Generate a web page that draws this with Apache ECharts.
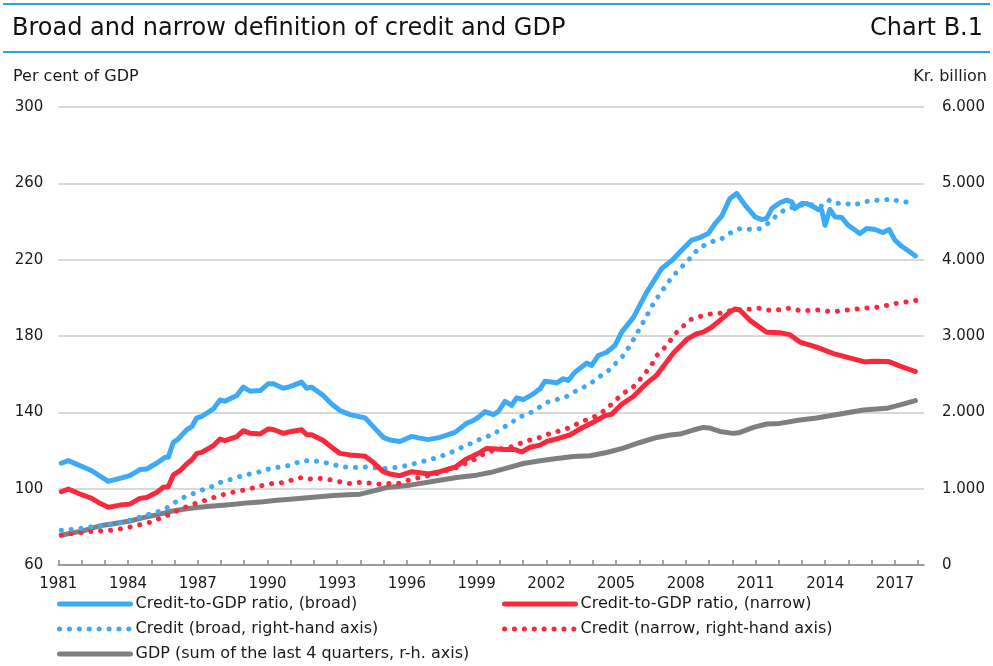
<!DOCTYPE html>
<html>
<head>
<meta charset="utf-8">
<title>Chart B.1</title>
<script src="https://cdn.jsdelivr.net/npm/echarts@6/dist/echarts.min.js"></script>
<style>
  html, body { margin: 0; padding: 0; background: #fff; }
  #chart { width: 993px; height: 666px; }
</style>
</head>
<body>
<div id="chart"></div>
<script>
// series names (legend)
const names = [
  'Credit-to-GDP ratio, (broad)',
  'Credit-to-GDP ratio, (narrow)',
  'Credit (broad, right-hand axis)',
  'Credit (narrow, right-hand axis)',
  'GDP (sum of the last 4 quarters, r-h. axis)'
];

// [year, per cent of GDP]
const broadRatio = [[1981.13,113.3],[1981.43,114.7],[1982.44,109.4],[1983.15,103.8],[1983.65,105.4],[1984.08,106.8],[1984.51,110],[1984.80,110.3],[1985.23,113.3],[1985.59,116.4],[1985.73,116.4],[1985.95,124.3],[1986.16,126],[1986.52,130.8],[1986.74,132.5],[1986.96,137.1],[1987.17,137.8],[1987.67,141.8],[1987.96,146.5],[1988.17,145.8],[1988.68,148.8],[1988.96,153.2],[1989.25,151.1],[1989.69,151.4],[1990.04,155],[1990.25,155],[1990.68,152.6],[1990.97,153.5],[1991.47,155.8],[1991.69,152.6],[1991.90,153.2],[1992.40,148.8],[1992.76,144.4],[1993.12,140.9],[1993.55,138.8],[1994.20,137.1],[1994.55,132.5],[1994.98,126.9],[1995.27,125.5],[1995.70,124.7],[1996.21,127.4],[1996.49,126.6],[1996.92,125.7],[1997.42,126.9],[1997.78,128.3],[1998.07,129.5],[1998.57,134.3],[1998.86,135.7],[1999.07,137.4],[1999.36,140.4],[1999.72,138.8],[1999.93,140.4],[2000.22,145.7],[2000.51,143.6],[2000.72,147.6],[2001.01,146.7],[2001.44,149.7],[2001.73,152.3],[2001.94,156.3],[2002.45,155.5],[2002.73,157.6],[2002.94,156.7],[2003.23,161],[2003.74,165.8],[2003.95,164.6],[2004.24,169.8],[2004.60,171.5],[2004.95,175],[2005.24,182],[2005.74,189.6],[2006.32,203],[2006.96,215.3],[2007.46,220.2],[2007.82,224.9],[2008.25,230.2],[2008.61,231.6],[2008.97,233.7],[2009.26,238.9],[2009.55,242.9],[2009.90,252.1],[2010.19,254.7],[2010.55,248.6],[2010.98,242.4],[2011.27,241],[2011.48,241.6],[2011.70,246.8],[2012.05,249.8],[2012.34,251.2],[2012.56,250.3],[2012.70,246.8],[2012.99,249.4],[2013.20,249.4],[2013.49,247.7],[2013.70,246.3],[2013.85,245.9],[2013.99,238],[2014.20,246.3],[2014.42,242.4],[2014.71,242.1],[2014.99,238],[2015.49,233.7],[2015.78,236.3],[2016.14,235.8],[2016.49,234.2],[2016.75,235.8],[2017.00,230.2],[2017.29,227],[2017.65,224],[2017.88,221.9]];

const narrowRatio = [[1981.13,98.4],[1981.43,99.8],[1981.93,97.2],[1982.44,94.9],[1982.79,92.3],[1983.15,90.2],[1983.65,91.4],[1984.08,91.9],[1984.51,94.9],[1984.80,95.4],[1985.23,98],[1985.52,100.7],[1985.73,101],[1985.95,107.2],[1986.24,109.4],[1986.52,112.9],[1986.74,115],[1986.96,118.5],[1987.17,119],[1987.67,122.5],[1987.96,126],[1988.17,125.2],[1988.68,127.3],[1988.96,130.4],[1989.25,129],[1989.69,128.7],[1990.04,131.3],[1990.25,131],[1990.68,129],[1990.97,129.8],[1991.47,130.9],[1991.69,128.2],[1991.90,128.2],[1992.40,125.2],[1992.76,121.7],[1993.12,118.5],[1993.55,117.7],[1994.20,117],[1994.55,113.8],[1994.98,108.9],[1995.27,107.7],[1995.70,106.8],[1996.21,108.9],[1996.49,108.5],[1996.92,107.7],[1997.42,108.9],[1997.78,110.3],[1998.07,111.2],[1998.57,115.6],[1998.86,117.3],[1999.15,119],[1999.43,121.1],[1999.86,120.8],[2000.15,120.5],[2000.65,120.5],[2000.94,119.2],[2001.30,121.7],[2001.73,122.8],[2002.02,124.8],[2002.51,126.3],[2003.02,128.2],[2003.52,131.8],[2004.02,134.8],[2004.52,138.3],[2004.81,139],[2005.24,144.2],[2005.74,148.3],[2006.25,154.5],[2006.75,159.5],[2007.03,164],[2007.46,171],[2008.04,178.2],[2008.47,181.2],[2008.75,182],[2009.12,184.7],[2009.47,188.2],[2009.90,192.5],[2010.12,194.2],[2010.33,193.5],[2010.76,188.2],[2011.48,182],[2012.05,181.7],[2012.48,180.7],[2012.91,176.8],[2013.63,174.2],[2014.35,170.8],[2014.92,168.9],[2015.70,166.4],[2016.07,166.8],[2016.71,166.7],[2017.22,164.2],[2017.88,161.4]];

// [year, kr. billion]
const broadCredit = [[1981.13,454],[1981.65,467],[1982.08,481],[1982.51,502],[1983.01,520],[1983.44,541],[1983.87,567],[1984.30,607],[1984.73,651],[1985.16,686],[1985.59,730],[1985.95,809],[1986.38,883],[1986.81,936],[1987.17,980],[1987.60,1028],[1988.03,1089],[1988.46,1125],[1988.89,1168],[1989.32,1198],[1989.75,1225],[1990.18,1272],[1990.61,1286],[1991.04,1312],[1991.47,1365],[1991.90,1365],[1992.33,1352],[1992.76,1322],[1993.19,1286],[1993.69,1277],[1994.12,1286],[1994.55,1277],[1995.06,1264],[1995.49,1277],[1995.92,1299],[1996.35,1330],[1996.78,1365],[1997.21,1400],[1997.64,1444],[1998.07,1496],[1998.50,1562],[1998.86,1605],[1999.29,1671],[1999.72,1707],[2000.08,1794],[2000.44,1847],[2000.79,1934],[2001.22,1978],[2001.59,2044],[2002.02,2131],[2002.37,2162],[2002.80,2196],[2003.16,2262],[2003.59,2328],[2003.88,2372],[2004.31,2472],[2004.67,2547],[2005.03,2656],[2005.38,2766],[2005.81,2984],[2006.25,3226],[2006.68,3466],[2006.96,3575],[2007.18,3684],[2007.61,3838],[2008.11,3991],[2008.40,4100],[2008.75,4180],[2009.12,4235],[2009.55,4276],[2009.90,4346],[2010.33,4407],[2010.76,4398],[2011.19,4407],[2011.55,4477],[2011.91,4578],[2012.27,4657],[2012.70,4695],[2013.10,4720],[2013.49,4720],[2013.85,4700],[2014.18,4779],[2014.42,4740],[2014.85,4740],[2015.20,4713],[2015.62,4750],[2016.03,4779],[2016.45,4775],[2016.83,4797],[2017.26,4757],[2017.88,4757]];

const narrowCredit = [[1981.13,390],[1981.50,410],[1981.93,424],[1982.36,440],[1982.79,445],[1983.30,455],[1983.73,476],[1984.16,502],[1984.59,533],[1985.02,564],[1985.45,620],[1985.88,673],[1986.24,730],[1986.67,783],[1987.02,817],[1987.45,862],[1987.82,896],[1988.25,936],[1988.68,962],[1989.03,984],[1989.46,1015],[1989.82,1046],[1990.25,1070],[1990.68,1081],[1991.04,1112],[1991.47,1146],[1991.90,1125],[1992.26,1134],[1992.69,1116],[1993.12,1089],[1993.55,1067],[1993.98,1081],[1994.41,1072],[1994.77,1059],[1995.20,1067],[1995.63,1067],[1995.99,1103],[1996.42,1138],[1996.78,1159],[1997.21,1190],[1997.64,1234],[1998.07,1269],[1998.50,1330],[1998.86,1374],[1999.29,1453],[1999.65,1496],[2000.08,1525],[2000.51,1549],[2000.87,1592],[2001.30,1637],[2001.73,1671],[2002.16,1724],[2002.59,1759],[2003.02,1802],[2003.45,1868],[2003.81,1912],[2004.17,1956],[2004.60,2044],[2004.95,2153],[2005.38,2262],[2005.81,2350],[2006.17,2480],[2006.53,2620],[2006.75,2744],[2007.18,2875],[2007.54,3029],[2007.89,3129],[2008.18,3212],[2008.75,3269],[2009.18,3295],[2009.61,3300],[2009.98,3340],[2010.41,3344],[2010.76,3352],[2011.19,3365],[2011.62,3335],[2012.05,3344],[2012.48,3365],[2012.88,3335],[2013.31,3335],[2013.74,3340],[2014.17,3320],[2014.42,3322],[2014.81,3335],[2015.24,3348],[2015.67,3365],[2016.10,3370],[2016.52,3391],[2016.96,3422],[2017.39,3444],[2017.79,3457],[2018.13,3488]];

const gdp = [[1981.13,390],[1981.65,424],[1982.08,446],[1982.51,490],[1982.94,520],[1983.51,547],[1984.08,577],[1984.66,620],[1985.23,656],[1985.81,700],[1986.38,730],[1986.96,752],[1987.53,770],[1988.10,783],[1988.68,800],[1989.25,817],[1989.82,830],[1990.40,849],[1990.97,862],[1991.83,883],[1992.98,915],[1993.98,928],[1994.27,949],[1995.13,1015],[1996.13,1046],[1997.28,1103],[1998.14,1146],[1999.00,1177],[1999.58,1211],[2000.29,1269],[2001.01,1330],[2001.73,1365],[2002.45,1395],[2003.16,1422],[2003.88,1431],[2004.60,1474],[2005.31,1532],[2006.03,1605],[2006.75,1671],[2007.32,1702],[2007.75,1715],[2008.32,1768],[2008.75,1802],[2009.04,1794],[2009.47,1750],[2010.04,1724],[2010.33,1737],[2010.91,1802],[2011.48,1847],[2012.05,1855],[2012.91,1899],[2013.63,1925],[2014.64,1978],[2015.64,2031],[2016.64,2052],[2017.22,2097],[2017.88,2153]];

const BLUE = '#3daaf7';
const RED = '#f9283c';
const GREY = '#7f7f7f';
const FONT = 'DejaVu Sans';
const DOTS = [0.1, 9.8];

function lineSeries(name, data, color, axis, dash) {
  return {
    name: name,
    type: 'line',
    yAxisIndex: axis,
    data: data,
    symbol: 'none',
    smooth: false,
    lineStyle: { color: color, width: 5, type: dash || 'solid', cap: 'round', join: 'round' },
    itemStyle: { color: color },
    silent: true
  };
}

function legendBlock(left, items) {
  return {
    orient: 'vertical', left: left, top: 595, padding: 0, height: 80,
    itemWidth: 71, itemHeight: 18, itemGap: 7,
    data: items,
    textStyle: { fontFamily: FONT, fontSize: 16, color: '#1a1a1a', lineHeight: 18 },
    lineStyle: { width: 5 },
    itemStyle: { opacity: 0, borderWidth: 0 },
    selectedMode: false
  };
}

const chart = echarts.init(document.getElementById('chart'), null, { renderer: 'canvas' });

chart.setOption({
  animation: false,
  textStyle: { fontFamily: FONT },
  graphic: [
    { type: 'rect', shape: { x: 3, y: 3, width: 987, height: 2 }, style: { fill: '#2aa3d8' } },
    { type: 'rect', shape: { x: 3, y: 51, width: 987, height: 2 }, style: { fill: '#2aa3d8' } },
    { type: 'text', x: 12, y: 29, style: { text: 'Broad and narrow definition of credit and GDP', font: '24px "' + FONT + '"', fill: '#111', verticalAlign: 'middle' } },
    { type: 'text', x: 983, y: 29, style: { text: 'Chart B.1', font: '24px "' + FONT + '"', fill: '#111', align: 'right', verticalAlign: 'middle' } },
    { type: 'text', x: 13, y: 77, style: { text: 'Per cent of GDP', font: '16px "' + FONT + '"', fill: '#1a1a1a', verticalAlign: 'middle' } },
    { type: 'text', x: 987, y: 77, style: { text: 'Kr. billion', font: '16px "' + FONT + '"', fill: '#1a1a1a', align: 'right', verticalAlign: 'middle' } }
  ],
  legend: [
    legendBlock(57, [names[0], names[2], names[4]]),
    legendBlock(502, [names[1], names[3]])
  ],
  grid: { left: 58.3, right: 69, top: 107, bottom: 101 },
  xAxis: {
    type: 'value',
    min: 1981,
    max: 2018.25,
    interval: 1,
    axisLine: { lineStyle: { color: '#888', width: 1.5 } },
    axisTick: { inside: true, length: 5, lineStyle: { color: '#888', width: 1.5 } },
    splitLine: { show: false },
    axisLabel: {
      margin: 12,
      fontFamily: FONT, fontSize: 15, color: '#1a1a1a',
      showMaxLabel: false,
      formatter: function (v) {
        return (Math.round(v) === v && (v - 1981) % 3 === 0) ? String(v) : '';
      }
    }
  },
  yAxis: [
    {
      type: 'value', min: 60, max: 300, interval: 40,
      axisLine: { show: false }, axisTick: { show: false },
      splitLine: { lineStyle: { color: '#d9d9d9', width: 2 } },
      axisLabel: { margin: 15, fontFamily: FONT, fontSize: 15, color: '#1a1a1a' }
    },
    {
      type: 'value', min: 0, max: 6000, interval: 1000,
      axisLine: { show: false }, axisTick: { show: false },
      splitLine: { show: false },
      axisLabel: {
        margin: 18, fontFamily: FONT, fontSize: 15, color: '#1a1a1a',
        formatter: function (v) { return v === 0 ? '0' : (v / 1000).toFixed(3); }
      }
    }
  ],
  series: [
    lineSeries(names[4], gdp, GREY, 1),
    lineSeries(names[3], narrowCredit, RED, 1, DOTS),
    lineSeries(names[2], broadCredit, BLUE, 1, DOTS),
    lineSeries(names[1], narrowRatio, RED, 0),
    lineSeries(names[0], broadRatio, BLUE, 0)
  ]
});
</script>
</body>
</html>
